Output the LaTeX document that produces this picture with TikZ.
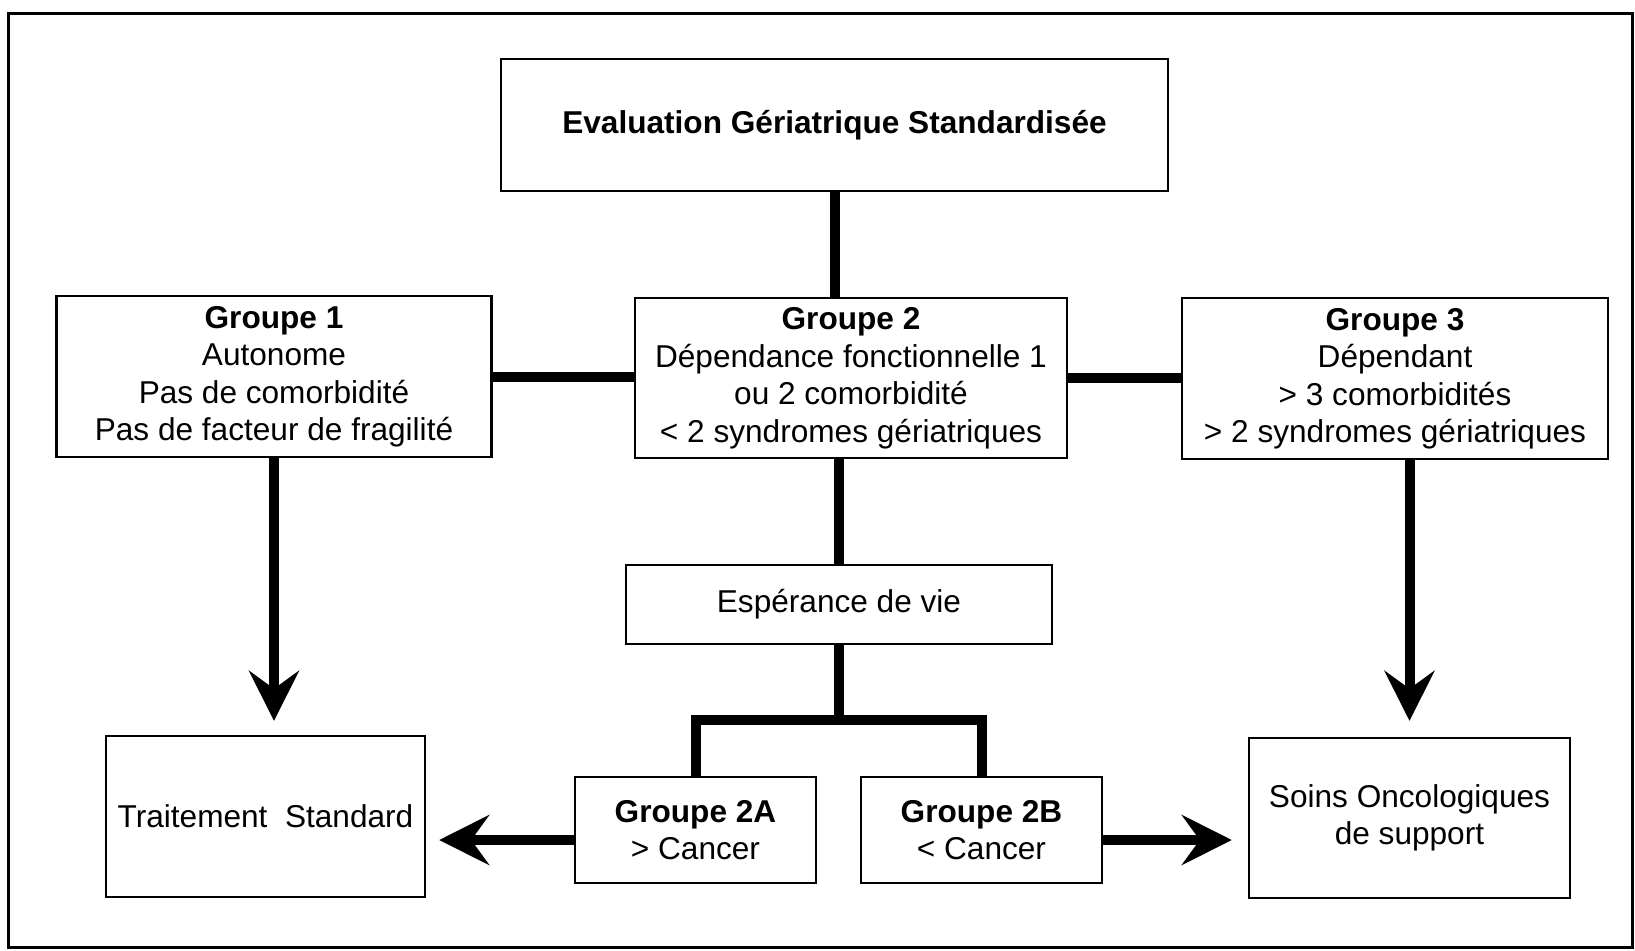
\documentclass[tikz,border=0pt]{standalone}
\usepackage{fontspec}
\setmainfont{Liberation Sans}
\usetikzlibrary{arrows.meta}

\begin{document}
\begin{tikzpicture}[x=0.5pt, y=-0.5pt,
  box/.style={draw, line width=1.2pt, inner sep=0pt, align=center, font=\fontsize{15.8}{18.75}\selectfont},
  link/.style={line width=5pt},
  big arrow/.style={link, -{Stealth[length=25pt, width=25pt, inset=9pt]}}]
\useasboundingbox (0,0) rectangle (1635,950);
\draw [line width=1.5pt] (8,13) rectangle (1632,947);

\node [box, minimum width=333.5pt, minimum height=66pt] (E) at (834.5,125) {\textbf{Evaluation Gériatrique Standardisée}};
\node [box, minimum width=217.5pt, minimum height=80.5pt] (G1) at (274,376.5) {\textbf{Groupe 1}\\Autonome\\Pas de comorbidité\\Pas de facteur de fragilité};
\node [box, minimum width=216pt, minimum height=80pt] (G2) at (851,378) {\textbf{Groupe 2}\\Dépendance fonctionnelle 1\\ou 2 comorbidité\\< 2 syndromes gériatriques};
\node [box, minimum width=213pt, minimum height=80.5pt] (G3) at (1395,378.5) {\textbf{Groupe 3}\\Dépendant\\> 3 comorbidités\\> 2 syndromes gériatriques};
\node [box, minimum width=213pt, minimum height=39.5pt] (EV) at (839,604.5) {Espérance de vie};
\node [box, minimum width=120.5pt, minimum height=53pt] (G2A) at (695.5,830) {\textbf{Groupe 2A}\\> Cancer};
\node [box, minimum width=120.5pt, minimum height=53pt] (G2B) at (981.5,830) {\textbf{Groupe 2B}\\< Cancer};
\node [box, minimum width=159.5pt, minimum height=80.5pt] (TS) at (265.5,816.5) {Traitement\ \ Standard};
\node [box, minimum width=160.5pt, minimum height=80pt] (SO) at (1409.5,818) {Soins Oncologiques\\de support};

\draw [link] (E.south) -- (E.south |- G2.north);
\draw [link] (G1.east) -- (G1.east -| G2.west);
\draw [link] (G2.east) -- (G2.east -| G3.west);
\draw [link] (EV.north |- G2.south) -- (EV.north);

\coordinate (J) at (839,720);
\draw [link] (EV.south) -- (J);
\draw [link] (G2A.north) |- (J) -| (G2B.north);

\draw [big arrow, shorten >=7pt] (G1.south) -- (G1.south |- TS.north);
\draw [big arrow, shorten >=8pt] (SO.north |- G3.south) -- (SO.north);

\coordinate (A) at ([yshift=-5pt]G2A.west);
\draw [big arrow, shorten >=6.5pt] (A) -- (A -| TS.east);
\coordinate (B) at ([yshift=-5pt]G2B.east);
\draw [big arrow, shorten >=8pt] (B) -- (B -| SO.west);
\end{tikzpicture}
\end{document}
